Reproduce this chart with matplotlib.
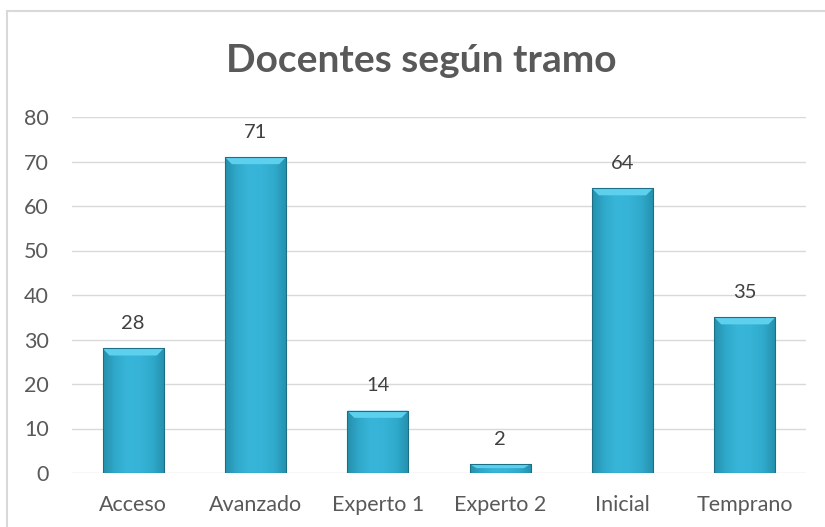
import numpy as np
import matplotlib.pyplot as plt
from matplotlib.patches import Rectangle, Polygon
from matplotlib.colors import LinearSegmentedColormap

categories = ["Acceso", "Avanzado", "Experto 1", "Experto 2", "Inicial", "Temprano"]
docentes = [28, 71, 14, 2, 64, 35]
y_ticks = [0, 10, 20, 30, 40, 50, 60, 70, 80]

plt.rcParams['font.family'] = ['Lato', 'DejaVu Sans']

W, H = 825, 527
fig = plt.figure(figsize=(W / 100, H / 100), dpi=100)

# chart frame (cut off at right and bottom like the screenshot)
fig.patches.append(Rectangle((7 / W, -0.05), 1.1, (H - 11) / H + 0.05,
                             transform=fig.transFigure, fill=False,
                             edgecolor='#d9d9d9', linewidth=1.5))

ax = fig.add_axes([72 / W, (H - 473) / H, (806 - 72) / W, (473 - 117) / H])

bar_w = 0.5
grad = LinearSegmentedColormap.from_list(
    'bar', ['#2590ad', '#30aacc', '#38b6d9', '#36b3d6', '#30aacc', '#2590ad'])
gx = np.linspace(0, 1, 64).reshape(1, -1)
bevel_h = 1.6   # height of the top bevel in data units
inset = 0.057   # horizontal inset of the bevel

for i, v in enumerate(docentes):
    x0, x1 = i - bar_w / 2, i + bar_w / 2
    # body with horizontal shading
    im = ax.imshow(gx, cmap=grad, extent=[x0, x1, 0, v], aspect='auto',
                   interpolation='bicubic', zorder=3)
    body = Rectangle((x0, 0), bar_w, v, facecolor='none',
                     edgecolor='#1d6f86', linewidth=0.8, zorder=5)
    ax.add_patch(body)
    im.set_clip_path(body)
    # top bevel
    b = min(bevel_h, v * 0.45)
    ax.add_patch(Polygon([[x0, v], [x1, v], [x1 - inset, v - b], [x0 + inset, v - b]],
                         closed=True, facecolor='#5dd0ee', edgecolor='none', zorder=4))
    ax.text(i, v + 5.6, str(v), ha='center', va='center', fontsize=14.5,
            color='#404040')

# invisible bars so the axis knows the bar positions
ax.bar(range(len(categories)), docentes, width=bar_w, color='none', zorder=2)

ax.set_xlim(-0.5, len(categories) - 0.5)
ax.set_ylim(0, 80)
ax.set_yticks(y_ticks)
ax.set_xticks(range(len(categories)))
ax.set_xticklabels(categories)
ax.tick_params(axis='both', length=0, labelsize=15.5, labelcolor='#595959')
ax.tick_params(axis='y', pad=16.5)
ax.tick_params(axis='x', pad=15.5)
ax.grid(axis='y', color='#d9d9d9', linewidth=1, zorder=0)
for s in ax.spines.values():
    s.set_visible(False)

fig.text(421 / W, 1 - 61 / H, "Docentes según tramo", ha='center', va='center',
         fontsize=28, fontweight='bold', color='#595959')

fig.savefig('out.png', dpi=100)
